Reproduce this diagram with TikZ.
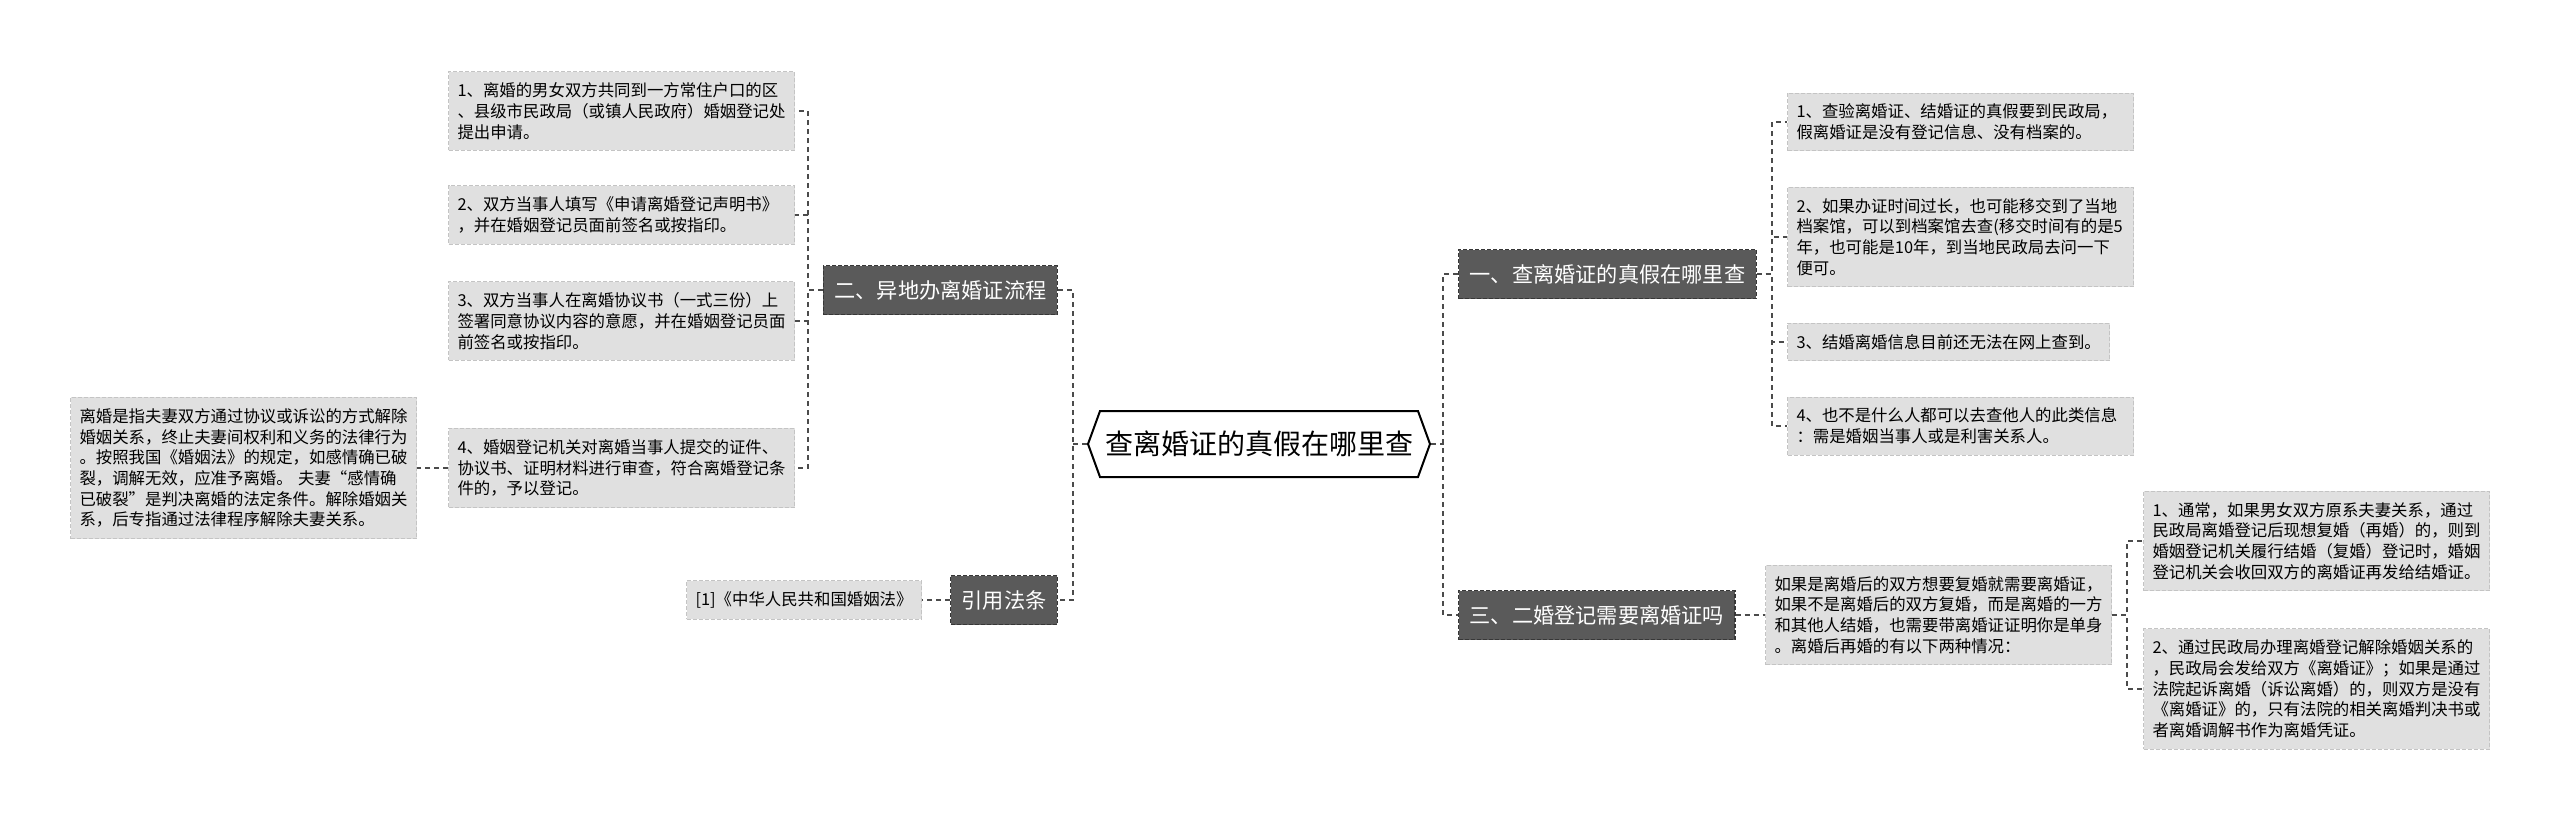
\documentclass[tikz,border=0pt]{standalone}
\usepackage{fontspec}
\setmainfont{Noto Sans CJK SC}
\usetikzlibrary{shapes.symbols,positioning,calc}
\definecolor{TopicFill}{RGB}{90,90,90}
\definecolor{TopicEdge}{RGB}{55,55,55}
\definecolor{LeafFill}{RGB}{224,224,224}
\definecolor{LeafEdge}{RGB}{196,196,196}
\definecolor{LinkGray}{RGB}{75,75,75}

\begin{document}
\begin{tikzpicture}[x=0.5pt,y=-0.5pt,
  topic/.style={fill=TopicFill,draw=TopicEdge,dash pattern=on 2pt off 1pt,line width=0.6pt,text=white,
    font=\fontsize{10.6pt}{12pt}\selectfont,minimum height=24.5pt,inner xsep=5.5pt},
  leaf/.style={fill=LeafFill,draw=LeafEdge,dash pattern=on 2pt off 1pt,line width=0.5pt,
    font=\fontsize{8.2pt}{10.35pt}\selectfont,inner xsep=4.5pt,inner ysep=5.5pt,align=left},
  wide/.style={leaf,text width=164pt},
  link/.style={draw=LinkGray,dash pattern=on 2.5pt off 2pt,line width=0.7pt}]
  \fill[white] (0,0) rectangle (2560,821);
  \useasboundingbox (0,0) rectangle (2560,821);

  \node[signal,signal to=west and east,signal pointer angle=140,draw=black,line width=1pt,fill=white,
    minimum height=33pt,minimum width=171pt,inner xsep=2pt,font=\fontsize{14pt}{16pt}\selectfont] (root) at (1259,444) {查离婚证的真假在哪里查};

  \node[topic,anchor=east] (two) at (1058,290) {二、异地办离婚证流程};
  \node[topic,anchor=east] (law) at (1058,600) {引用法条};
  \node[topic,anchor=west] (one) at (1458,274) {一、查离婚证的真假在哪里查};
  \node[topic,anchor=west] (three) at (1458,615) {三、二婚登记需要离婚证吗};

  \node[wide,anchor=east] (p1) at (795,111) {1、离婚的男女双方共同到一方常住户口的区\\、县级市民政局（或镇人民政府）婚姻登记处\\提出申请。};
  \node[wide,anchor=east] (p2) at (795,215) {2、双方当事人填写《申请离婚登记声明书》\\，并在婚姻登记员面前签名或按指印。};
  \node[wide,anchor=east] (p3) at (795,321) {3、双方当事人在离婚协议书（一式三份）上\\签署同意协议内容的意愿，并在婚姻登记员面\\前签名或按指印。};
  \node[wide,anchor=east] (p4) at (795,468) {4、婚姻登记机关对离婚当事人提交的证件、\\协议书、证明材料进行审查，符合离婚登记条\\件的，予以登记。};
  \node[wide,anchor=east] (def) at (417,468) {离婚是指夫妻双方通过协议或诉讼的方式解除\\婚姻关系，终止夫妻间权利和义务的法律行为\\。按照我国《婚姻法》的规定，如感情确已破\\裂，调解无效，应准予离婚。 夫妻“感情确\\已破裂”是判决离婚的法定条件。解除婚姻关\\系，后专指通过法律程序解除夫妻关系。};
  \node[leaf,anchor=east] (lawref) at (922,600) {[1]《中华人民共和国婚姻法》};

  \node[wide,anchor=west] (c1) at (1787,122) {1、查验离婚证、结婚证的真假要到民政局，\\假离婚证是没有登记信息、没有档案的。};
  \node[wide,anchor=west] (c2) at (1787,237) {2、如果办证时间过长，也可能移交到了当地\\档案馆，可以到档案馆去查(移交时间有的是5\\年，也可能是10年，到当地民政局去问一下\\便可。};
  \node[leaf,anchor=west] (c3) at (1787,342) {3、结婚离婚信息目前还无法在网上查到。};
  \node[wide,anchor=west] (c4) at (1787,426) {4、也不是什么人都可以去查他人的此类信息\\：需是婚姻当事人或是利害关系人。};

  \node[wide,anchor=west] (para) at (1765,615) {如果是离婚后的双方想要复婚就需要离婚证，\\如果不是离婚后的双方复婚，而是离婚的一方\\和其他人结婚，也需要带离婚证证明你是单身\\。离婚后再婚的有以下两种情况：};
  \node[wide,anchor=west] (r1) at (2143,541) {1、通常，如果男女双方原系夫妻关系，通过\\民政局离婚登记后现想复婚（再婚）的，则到\\婚姻登记机关履行结婚（复婚）登记时，婚姻\\登记机关会收回双方的离婚证再发给结婚证。};
  \node[wide,anchor=west] (r2) at (2143,689) {2、通过民政局办理离婚登记解除婚姻关系的\\，民政局会发给双方《离婚证》；如果是通过\\法院起诉离婚（诉讼离婚）的，则双方是没有\\《离婚证》的，只有法院的相关离婚判决书或\\者离婚调解书作为离婚凭证。};

  \draw[link] (root.west) -- ++(-15,0);
  \draw[link] (two.east) -- ++(15,0) |- (law.east);
  \draw[link] (root.east) -- ++(13,0);
  \draw[link] (one.west) -- ++(-15,0) |- (three.west);
  \foreach \k in {1,...,4} {
    \draw[link] (two.west) -- ++(-15,0) |- (p\k.east);
    \draw[link] (one.east) -- ++(15,0) |- (c\k.west);
  }
  \draw[link] (p4.west) -- (def.east);
  \draw[link] (law.west) -- (lawref.east);
  \draw[link] (three.east) -- (para.west);
  \foreach \k in {1,2}
    \draw[link] (para.east) -- ++(15,0) |- (r\k.west);
\end{tikzpicture}
\end{document}
